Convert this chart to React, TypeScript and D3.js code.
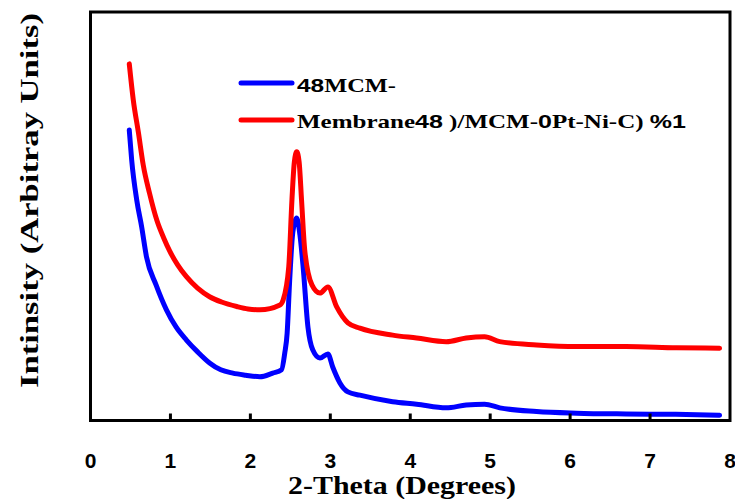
import React from "react";
import * as d3 from "d3";

const xTicks = [0, 1, 2, 3, 4, 5, 6, 7, 8];

const mcmX = [0.485, 0.515, 0.578, 0.64, 0.7, 0.82, 0.95, 1.07, 1.2, 1.34, 1.49, 1.63, 1.78, 1.94, 2.12, 2.28, 2.39, 2.43, 2.46, 2.49, 2.53, 2.58, 2.62, 2.66, 2.72, 2.78, 2.87, 2.97, 3.03, 3.12, 3.22, 3.37, 3.78, 4.08, 4.45, 4.7, 4.93, 5.12, 5.58, 6.08, 6.7, 7.32, 7.87];
const mcmY = [71.1, 63.8, 54.0, 47.4, 40.1, 33.2, 27.1, 22.9, 19.7, 16.8, 14.1, 12.4, 11.6, 11.1, 10.7, 11.6, 12.4, 16.5, 21.4, 33.7, 45.9, 49.6, 45.4, 37.6, 22.9, 17.3, 15.3, 16.3, 13.1, 9.2, 7.0, 6.2, 4.6, 4.0, 3.1, 3.8, 4.0, 3.1, 2.2, 1.8, 1.6, 1.5, 1.3];

const memX = [0.485, 0.535, 0.6, 0.66, 0.74, 0.83, 0.92, 0.99, 1.09, 1.2, 1.34, 1.49, 1.64, 1.83, 1.97, 2.12, 2.37, 2.41, 2.48, 2.52, 2.55, 2.58, 2.61, 2.64, 2.68, 2.77, 2.87, 2.97, 3.08, 3.22, 3.37, 3.78, 4.08, 4.45, 4.7, 4.93, 5.12, 5.58, 6.08, 6.7, 7.33, 7.87];
const memY = [87.3, 78.5, 70.4, 62.5, 55.5, 49.0, 44.5, 41.5, 38.1, 35.2, 32.4, 30.3, 29.0, 27.9, 27.3, 27.1, 28.3, 29.5, 37.6, 54.0, 63.3, 65.8, 63.3, 54.0, 41.7, 33.2, 31.2, 32.7, 27.8, 23.9, 22.6, 20.9, 20.2, 19.3, 20.2, 20.5, 19.3, 18.5, 18.1, 18.1, 17.8, 17.7];

const SERIF = "'Liberation Serif', 'Times New Roman', serif";
const SANS = "'Liberation Sans', Arial, sans-serif";

export default function App() {
  const left = 90.5, right = 730, top = 12, bottom = 420.5;
  const x = d3.scaleLinear().domain([0, 8]).range([left, right]);
  const y = d3.scaleLinear().domain([0, 100]).range([bottom, top]);
  const line = d3.line<[number, number]>().x(d => x(d[0])).y(d => y(d[1])).curve(d3.curveMonotoneX);
  const mcm = mcmX.map((v, i) => [v, mcmY[i]] as [number, number]);
  const mem = memX.map((v, i) => [v, memY[i]] as [number, number]);

  return (
    <svg width={735} height={499} style={{ position: "absolute", left: 0, top: 0, background: "#fff" }}>
      <rect x={0} y={0} width={735} height={499} fill="#fff" />
      <path d={line(mcm) || ""} fill="none" stroke="#0000FF" strokeWidth={5} strokeLinejoin="round" strokeLinecap="round" />
      <path d={line(mem) || ""} fill="none" stroke="#FF0000" strokeWidth={5} strokeLinejoin="round" strokeLinecap="round" />
      <rect x={left} y={top} width={right - left} height={bottom - top} fill="none" stroke="#000" strokeWidth={3} />
      {xTicks.filter(t => t > 0 && t < 8).map(t => (
        <line key={t} x1={x(t)} x2={x(t)} y1={bottom} y2={bottom - 7} stroke="#000" strokeWidth={3} />
      ))}
      {xTicks.map(t => (
        <text key={t} x={x(t)} y={468} textAnchor="middle" style={{ fontFamily: SANS }} fontWeight="bold" fontSize={21} fill="#000">{t}</text>
      ))}
      <text x={288} y={494} textLength={228} lengthAdjust="spacingAndGlyphs" style={{ fontFamily: SERIF }} fontWeight="bold" fontSize={25} fill="#000">2-Theta (Degrees)</text>
      <text transform="translate(38,388) rotate(-90)" x={0} y={0} textLength={375} lengthAdjust="spacingAndGlyphs" style={{ fontFamily: SERIF }} fontWeight="bold" fontSize={26} fill="#000">Intinsity (Arbitray Units)</text>
      <line x1={241} x2={292} y1={83} y2={83} stroke="#0000FF" strokeWidth={5} strokeLinecap="round" />
      <line x1={241} x2={292} y1={120} y2={120} stroke="#FF0000" strokeWidth={5} strokeLinecap="round" />
      <text x={297} y={92} textLength={99} lengthAdjust="spacingAndGlyphs" fontWeight="bold" fontSize={19} fill="#000">
        <tspan style={{ fontFamily: SANS }}>48</tspan><tspan style={{ fontFamily: SERIF }}>MCM-</tspan>
      </text>
      <text x={297} y={128} textLength={389} lengthAdjust="spacingAndGlyphs" fontWeight="bold" fontSize={19} fill="#000">
        <tspan style={{ fontFamily: SERIF }}>Membrane</tspan><tspan style={{ fontFamily: SANS }}>48</tspan><tspan style={{ fontFamily: SERIF }}> )/MCM-</tspan><tspan style={{ fontFamily: SANS }}>0</tspan><tspan style={{ fontFamily: SERIF }}>Pt-Ni-C) </tspan><tspan style={{ fontFamily: SANS }}>%1</tspan>
      </text>
    </svg>
  );
}
